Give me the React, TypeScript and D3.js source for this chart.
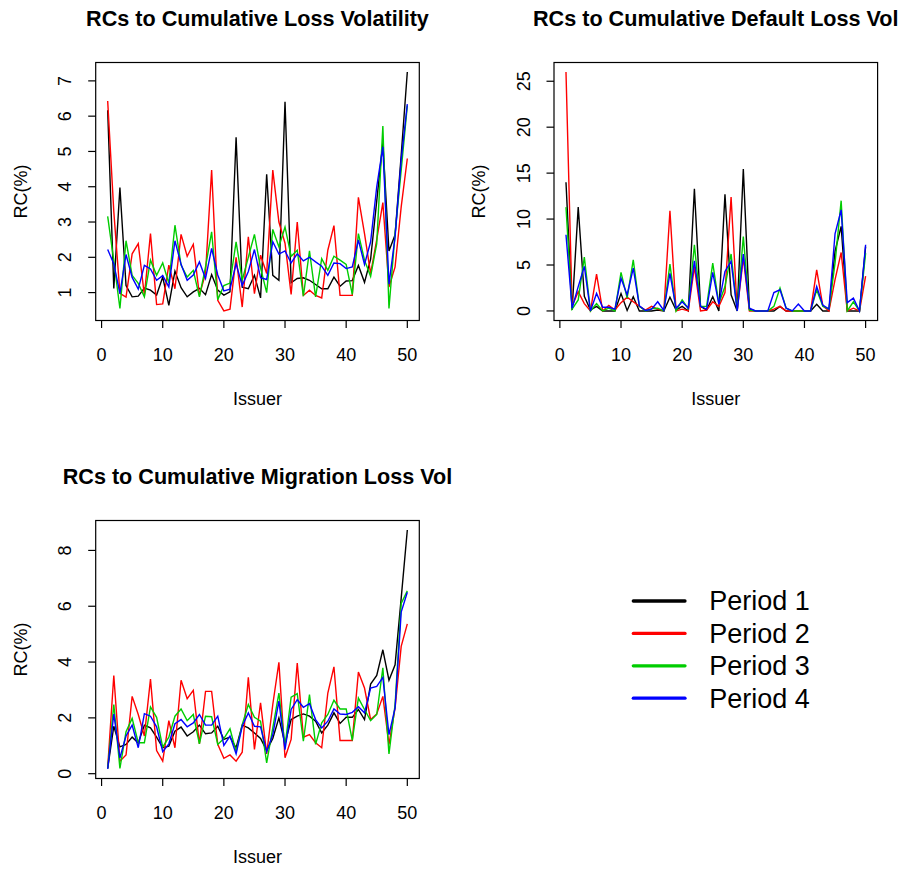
import React from "react";
import * as d3 from "d3";

// Issuer index shared by every panel
const issuers = d3.range(1, 51);

const seriesNames = ["Period 1", "Period 2", "Period 3", "Period 4"];
const seriesColors = ["#000000", "#FF0000", "#00CD00", "#0000FF"];

const xTicks = [0, 10, 20, 30, 40, 50];
const lossTicks = [1, 2, 3, 4, 5, 6, 7];
const defaultTicks = [0, 5, 10, 15, 20, 25];
const migrationTicks = [0, 2, 4, 6, 8];

// Risk contributions (%) to cumulative loss volatility
const lossP1 = [6.17, 1.12, 3.98, 1.2, 0.88, 0.9, 1.13, 1.07, 0.93, 1.44, 0.64, 1.61, 1.14, 0.88, 1.02, 1.12, 0.94, 1.51, 1.07, 0.93, 1.02, 5.4, 1.15, 1.11, 1.49, 0.85, 4.35, 1.49, 1.35, 6.41, 1.28, 1.4, 1.42, 1.35, 1.23, 1.11, 1.11, 1.44, 1.18, 1.33, 1.34, 1.77, 1.29, 1.95, 3.6, 5.25, 2.18, 2.64, 4.9, 7.25];
const lossP2 = [6.43, 3.3, 0.98, 0.87, 2.1, 2.39, 0.92, 2.67, 0.66, 0.68, 1.78, 1.11, 2.65, 2.03, 2.37, 0.92, 1.55, 4.47, 0.78, 0.48, 0.53, 2.0, 0.59, 2.58, 0.97, 2.06, 1.54, 4.47, 3.0, 2.4, 0.95, 3.0, 0.92, 1.07, 0.92, 0.85, 2.2, 2.9, 0.92, 0.92, 0.92, 3.7, 2.67, 1.54, 2.5, 3.55, 1.16, 1.73, 3.43, 4.8];
const lossP3 = [3.16, 1.9, 0.55, 2.47, 1.49, 1.26, 0.88, 1.92, 1.49, 1.84, 1.26, 2.91, 1.78, 1.44, 1.63, 0.88, 1.73, 2.72, 0.8, 1.2, 1.27, 2.44, 1.35, 2.0, 2.65, 1.7, 1.0, 2.79, 2.3, 2.86, 2.03, 2.2, 0.9, 2.18, 0.88, 1.96, 1.63, 2.03, 1.92, 1.8, 0.95, 2.67, 1.92, 1.46, 2.39, 5.72, 0.55, 2.67, 4.47, 6.3];
const lossP4 = [2.22, 1.82, 0.97, 2.08, 1.43, 1.1, 1.77, 1.67, 1.35, 1.48, 1.16, 2.47, 1.8, 1.35, 1.5, 1.87, 1.4, 2.25, 1.5, 1.05, 1.1, 1.82, 1.2, 1.6, 2.22, 1.42, 1.37, 2.44, 2.09, 2.18, 1.84, 2.1, 1.9, 2.0, 1.87, 1.75, 1.49, 1.84, 1.82, 1.68, 1.73, 2.49, 1.8, 2.44, 4.0, 5.13, 1.24, 2.58, 4.76, 6.34];

// Risk contributions (%) to cumulative default loss volatility
const defaultP1 = [14.0, 0.1, 11.3, 1.6, 0.1, 0.5, 0, 0, 0, 1.9, 0.05, 1.55, 0, 0, 0, 0.1, 0, 1.5, 0.1, 0.5, 0, 13.3, 0.5, 0.1, 1.56, 0, 12.7, 1.75, 0, 15.45, 0.2, 0, 0, 0, 0, 0.5, 0, 0, 0, 0, 0, 0.73, 0, 0, 6.5, 9.2, 0, 0, 0, 7.0];
const defaultP2 = [26.0, 0.5, 2.1, 0.8, 0, 4.0, 0, 0.6, 0.1, 0.9, 1.5, 1.0, 0.5, 0.1, 0.5, 0.2, 0, 10.9, 0, 0.2, 0, 4.8, 0, 0.1, 1.0, 0.5, 2.0, 12.4, 0, 5.8, 0, 0, 0, 0, 0.2, 0.5, 0, 0, 0, 0, 0, 4.47, 0.55, 0, 3.4, 6.36, 0, 0.3, 0, 3.8];
const defaultP3 = [11.3, 0.2, 1.2, 5.85, 0, 0.8, 0, 0.3, 0, 4.2, 1.4, 5.55, 0.5, 0, 0.25, 0.3, 0, 5.1, 0, 1.2, 0.25, 7.2, 0.5, 0.5, 5.2, 0.8, 2.65, 6.2, 0, 8.1, 0.1, 0, 0, 0, 0.5, 2.5, 0.3, 0, 0, 0, 0, 2.3, 0.5, 0.2, 5.2, 12.0, 0, 1.0, 0, 6.3];
const defaultP4 = [8.3, 0.3, 2.65, 4.85, 0, 1.9, 0.4, 0.4, 0.2, 3.55, 1.75, 4.65, 0.55, 0.05, 0.2, 1.0, 0.05, 4.1, 0.3, 1.0, 0.3, 5.45, 0.5, 0.2, 4.2, 0.75, 4.3, 5.4, 0, 6.2, 0.3, 0, 0, 0, 2.0, 2.3, 0.3, 0, 0.76, 0, 0, 2.65, 0.65, 0.2, 8.4, 11.0, 0.9, 1.4, 0, 7.2];

// Risk contributions (%) to cumulative migration loss volatility
const migrationP1 = [0.19, 1.7, 0.96, 1.05, 1.31, 1.1, 1.74, 1.64, 1.31, 0.93, 0.99, 1.52, 1.67, 1.35, 1.5, 1.74, 1.43, 1.46, 1.7, 1.23, 1.31, 0.93, 1.74, 1.64, 1.46, 1.26, 0.83, 1.26, 2.0, 1.07, 1.94, 2.06, 2.14, 2.06, 1.88, 1.46, 1.74, 2.18, 1.8, 2.02, 2.02, 2.3, 1.94, 3.21, 3.52, 4.44, 3.35, 3.9, 6.29, 8.73];
const migrationP2 = [0.21, 3.52, 0.45, 0.67, 2.77, 2.12, 1.35, 3.39, 0.83, 0.45, 1.9, 0.93, 3.35, 2.69, 2.99, 1.07, 2.95, 2.95, 1.05, 0.55, 0.67, 0.45, 0.77, 3.45, 0.87, 2.54, 0.71, 2.48, 3.99, 0.57, 1.23, 3.96, 1.31, 1.4, 1.11, 0.93, 2.89, 3.83, 1.19, 1.19, 1.19, 3.64, 3.07, 1.94, 2.14, 2.77, 1.05, 2.36, 4.56, 5.37];
const migrationP3 = [0.19, 2.48, 0.19, 1.5, 1.98, 1.11, 1.11, 2.39, 2.02, 0.95, 1.31, 2.06, 2.32, 1.9, 2.12, 1.07, 2.06, 2.04, 1.05, 1.26, 1.61, 0.79, 1.76, 2.48, 2.02, 1.88, 0.39, 1.64, 2.89, 0.99, 2.74, 2.87, 1.17, 2.83, 1.05, 1.82, 2.12, 2.63, 2.32, 2.32, 1.19, 2.71, 2.3, 1.9, 2.12, 3.79, 0.71, 2.48, 6.1, 6.55];
const migrationP4 = [0.17, 2.14, 0.57, 1.35, 1.74, 0.93, 2.15, 2.06, 1.68, 0.79, 1.07, 1.79, 1.94, 1.68, 1.82, 2.12, 1.74, 1.74, 2.06, 1.01, 1.35, 0.71, 1.7, 2.18, 1.7, 1.68, 0.79, 1.4, 2.6, 0.86, 2.3, 2.65, 2.38, 2.51, 1.94, 1.64, 1.88, 2.32, 2.14, 2.12, 2.2, 2.4, 2.18, 3.07, 3.13, 3.45, 1.4, 2.36, 5.79, 6.5];

const FONT = "'Liberation Sans', Arial, Helvetica, sans-serif";

type PanelProps = {
  title: string;
  series: number[][];
  yTicks: number[];
  dx: number;
  dy: number;
};

// Plot region inside each panel
const BOX = { left: 95.7, right: 419.3, top: 62.5, bottom: 320.5 };

function padded(lo: number, hi: number): [number, number] {
  const p = (hi - lo) * 0.04;
  return [lo - p, hi + p];
}

function Panel({ title, series, yTicks, dx, dy }: PanelProps) {
  const { left, right, top, bottom } = BOX;
  const x = d3.scaleLinear().domain(padded(1, 50)).range([left, right]);
  const all = series.flat();
  const y = d3
    .scaleLinear()
    .domain(padded(d3.min(all) as number, d3.max(all) as number))
    .range([bottom, top]);
  const line = d3
    .line<number>()
    .x((_, i) => x(issuers[i]))
    .y((v) => y(v));
  const cx = (left + right) / 2;
  const cy = (top + bottom) / 2;
  const tick = 7.5;

  return (
    <g transform={`translate(${dx},${dy})`} fontFamily={FONT}>
      <text x={cx} y={25.5} textAnchor="middle" fontSize={21.6} fontWeight="bold">
        {title}
      </text>
      {series.map((s, k) => (
        <path key={k} d={line(s) || ""} fill="none" stroke={seriesColors[k]} strokeWidth={1.4} strokeLinejoin="miter" />
      ))}
      <rect x={left} y={top} width={right - left} height={bottom - top} fill="none" stroke="#000" strokeWidth={1.2} />
      {xTicks.map((t) => (
        <g key={t}>
          <line x1={x(t)} x2={x(t)} y1={bottom} y2={bottom + tick} stroke="#000" strokeWidth={1.2} />
          <text x={x(t)} y={bottom + 40} textAnchor="middle" fontSize={18}>
            {t}
          </text>
        </g>
      ))}
      {yTicks.map((t) => (
        <g key={t}>
          <line x1={left - tick} x2={left} y1={y(t)} y2={y(t)} stroke="#000" strokeWidth={1.2} />
          <text
            transform={`translate(${left - 30.7},${y(t)}) rotate(-90)`}
            textAnchor="middle"
            dy="0.35em"
            fontSize={18}
          >
            {t}
          </text>
        </g>
      ))}
      <text x={cx} y={bottom + 84} textAnchor="middle" fontSize={18}>
        Issuer
      </text>
      <text transform={`translate(${left - 75},${cy}) rotate(-90)`} textAnchor="middle" dy="0.35em" fontSize={18}>
        RC(%)
      </text>
    </g>
  );
}

const panels: PanelProps[] = [
  { title: "RCs to Cumulative Loss Volatility", series: [lossP1, lossP2, lossP3, lossP4], yTicks: lossTicks, dx: 0, dy: 0 },
  { title: "RCs to Cumulative Default Loss Vol", series: [defaultP1, defaultP2, defaultP3, defaultP4], yTicks: defaultTicks, dx: 458.3, dy: 0 },
  { title: "RCs to Cumulative Migration Loss Vol", series: [migrationP1, migrationP2, migrationP3, migrationP4], yTicks: migrationTicks, dx: 0, dy: 458 },
];

function Legend() {
  const y0 = 601;
  const step = 32.4;
  return (
    <g fontFamily={FONT}>
      {seriesNames.map((name, k) => (
        <g key={name}>
          <line x1={633.3} x2={685} y1={y0 + k * step} y2={y0 + k * step} stroke={seriesColors[k]} strokeWidth={3.3} strokeLinecap="round" />
          <text x={709.3} y={y0 + k * step} dy="0.35em" fontSize={27}>
            {name}
          </text>
        </g>
      ))}
    </g>
  );
}

export default function App() {
  return (
    <svg width={904} height={870} style={{ position: "absolute", left: 0, top: 0, background: "#fff" }}>
      {panels.map((p) => (
        <Panel key={p.title} {...p} />
      ))}
      <Legend />
    </svg>
  );
}
